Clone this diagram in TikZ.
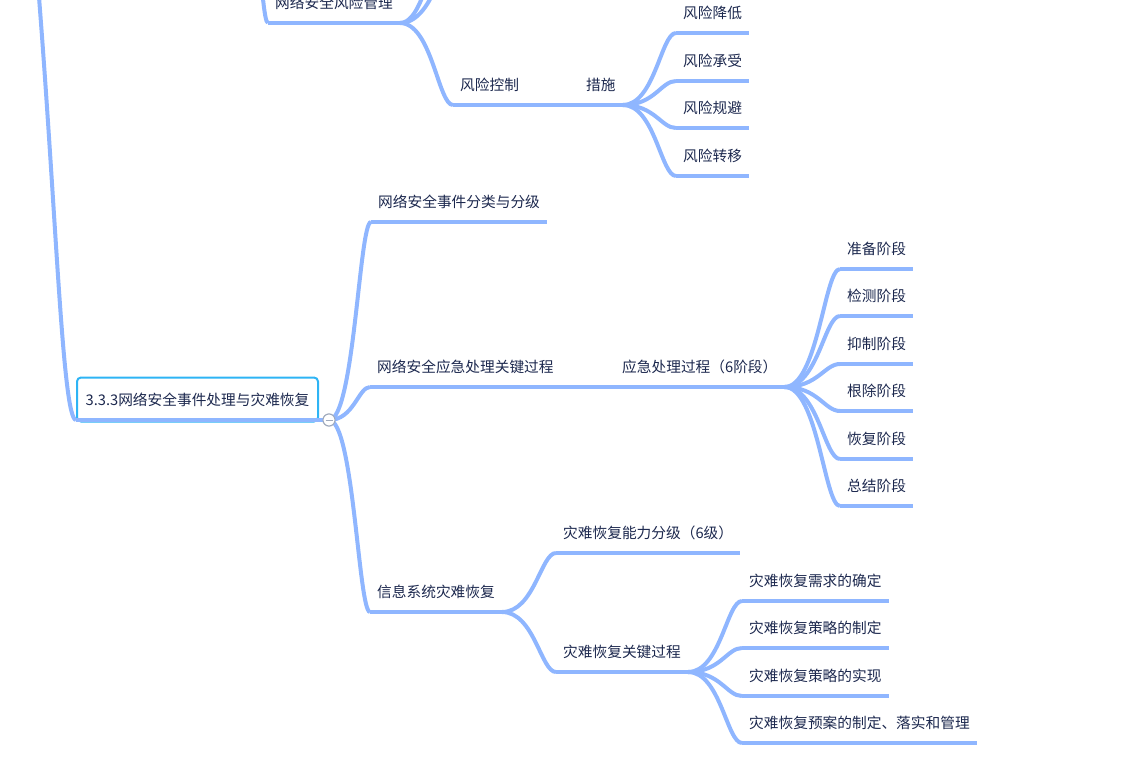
\documentclass[tikz,border=0pt]{standalone}
\usepackage{fontspec}
\setmainfont{Noto Sans CJK SC}
\usetikzlibrary{calc}

\definecolor{branchblue}{RGB}{143,182,255}
\definecolor{rootcyan}{RGB}{46,180,245}
\definecolor{foldgray}{RGB}{160,170,188}
\definecolor{ink}{RGB}{28,40,78}

\begin{document}
\begin{tikzpicture}[
            x=1pt, y=-1pt,
            branch/.style={line width=4pt, draw=branchblue},
            link/.style={branch, to path={.. controls ($(\tikztostart)!.6!(\tikztotarget |- \tikztostart)$)
                and ($(\tikztotarget)!.28!(\tikztostart |- \tikztotarget)$) .. (\tikztotarget)}},
            topic/.style={anchor=south west, inner xsep=7pt, inner ysep=0pt, minimum height=40pt,
                text=ink, font=\fontsize{14.7pt}{17pt}\selectfont},
            rootbox/.style={draw=rootcyan, line width=2pt, rounded corners=4pt, fill=white,
                minimum width=241pt, minimum height=44pt, inner sep=0pt,
                text=ink, font=\fontsize{14.7pt}{17pt}\selectfont},
            fold/.style={circle, draw=foldgray, line width=1pt, fill=white, minimum size=12pt, inner sep=0pt,
                path picture={\draw[foldgray, line width=1pt] ([xshift=-3.5pt]path picture bounding box.center)
                    -- ([xshift=3.5pt]path picture bounding box.center);}},
        ]
            \useasboundingbox (0,0) rectangle (1132,771);
            \clip (0,0) rectangle (1132,771);

            % parents above the visible part
            \coordinate (main) at (36,-40);
            \coordinate (grp) at (240,-150);
            \coordinate (up1) at (462,-60);
            \coordinate (up2) at (458,-130);

            % risk management branch (top)
            \node[topic] (riskmgmt) at (268,23) {网络安全风险管理};
            \node[topic] (riskctl) at (453,105) {风险控制};
            \node[topic] (measure) at (579,105) {措施};
            \draw[link] (grp) to (riskmgmt.south west);
            \draw[link] (riskmgmt.south east) to (up1);
            \draw[link] (riskmgmt.south east) to (up2);
            \draw[link] (riskmgmt.south east) to (riskctl.south west);
            \draw[link] (riskctl.south east) to (measure.south west);
            \foreach \n in {riskmgmt, riskctl, measure}
                \draw[branch] (\n.south west) -- (\n.south east);
            \foreach \n/\y/\t in {lower/33/风险降低, accept/81/风险承受, avoid/128/风险规避, transfer/176/风险转移}{
                \node[topic] (\n) at (676,\y) {\t};
                \draw[link] (measure.south east) to (\n.south west);
                \draw[branch] (\n.south west) -- (\n.south east);
            }

            % central topic
            \node[rootbox] (root) at (197.5,399.5) {3.3.3网络安全事件处理与灾难恢复};
            \node[fold] (fold) at ([xshift=10pt,yshift=2.5pt]root.south east) {};
            \draw[branch] (main) .. controls (56,200) and (62,419) .. ([yshift=2.5pt]root.south west);
            \draw[branch] ([yshift=2.5pt]root.south west) -- (fold.center);

            % first level
            \node[topic] (classify) at (371,222) {网络安全事件分类与分级};
            \node[topic] (keyproc) at (370,387) {网络安全应急处理关键过程};
            \node[topic] (drsys) at (370,612) {信息系统灾难恢复};
            \foreach \n in {classify, keyproc, drsys}{
                \draw[link] (fold.center) to (\n.south west);
                \draw[branch] (\n.south west) -- (\n.south east);
            }

            % emergency response stages
            \node[topic] (emerg) at (615,387) {应急处理过程（6阶段）};
            \draw[link] (keyproc.south east) to (emerg.south west);
            \draw[branch] (emerg.south west) -- (emerg.south east);
            \foreach \n/\y/\t in {prep/269/准备阶段, detect/316/检测阶段, contain/364/抑制阶段,
                    erad/411/根除阶段, recov/459/恢复阶段, review/506/总结阶段}{
                \node[topic] (\n) at (840,\y) {\t};
                \draw[link] (emerg.south east) to (\n.south west);
                \draw[branch] (\n.south west) -- (\n.south east);
            }

            % disaster recovery
            \node[topic] (drlevel) at (556,553) {灾难恢复能力分级（6级）};
            \node[topic] (drproc) at (556,672) {灾难恢复关键过程};
            \foreach \n in {drlevel, drproc}{
                \draw[link] (drsys.south east) to (\n.south west);
                \draw[branch] (\n.south west) -- (\n.south east);
            }
            \foreach \n/\y/\t in {needs/601/灾难恢复需求的确定, plan/648/灾难恢复策略的制定,
                    impl/696/灾难恢复策略的实现, manage/743/灾难恢复预案的制定、落实和管理}{
                \node[topic] (\n) at (742,\y) {\t};
                \draw[link] (drproc.south east) to (\n.south west);
                \draw[branch] (\n.south west) -- (\n.south east);
            }

            % collapse button on top of the lines
            \node[fold] at (fold.center) {};
        \end{tikzpicture}
\end{document}
